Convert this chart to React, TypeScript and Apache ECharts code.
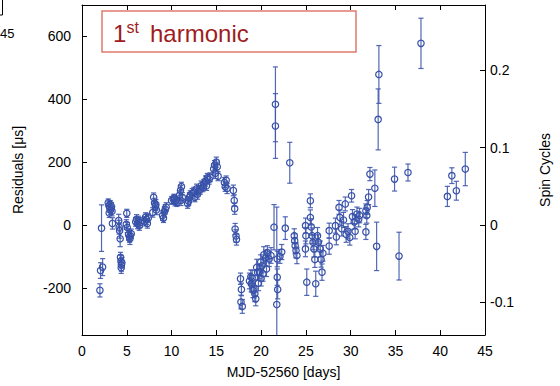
import React, { useEffect, useRef } from "react";
import * as echarts from "echarts";

// MJD-52560 [days]
const days = [
  2.0, 2.07, 2.3, 2.18, 2.93, 3.0, 3.1, 3.15, 3.2, 3.3,
  3.35, 3.04, 3.4, 4.1, 4.15, 4.2, 4.26, 4.3, 4.35, 4.4,
  4.38, 4.45, 5.0, 4.95, 5.05, 5.2, 5.3, 5.35, 5.4, 5.5,
  6.0, 6.1, 6.2, 6.3, 6.4, 6.5, 7.0, 7.1, 7.2, 7.3,
  7.4, 7.9, 8.0, 8.1, 8.2, 8.25, 8.3, 9.0, 9.1, 9.2,
  9.3, 9.4, 10.0, 10.2, 10.4, 10.5, 10.6, 10.3, 10.9, 11.0,
  11.1, 11.2, 11.05, 11.8, 11.9, 12.0, 12.1, 12.3, 12.5, 12.6,
  12.8, 12.9, 13.0, 13.2, 13.3, 13.5, 13.6, 13.8, 13.9, 14.0,
  14.2, 14.3, 14.7, 14.8, 14.9, 15.0, 15.1, 15.2, 15.9, 16.0,
  16.1, 16.2, 16.9, 17.0, 17.05, 17.1, 17.2, 17.25, 17.7, 17.8,
  17.75, 17.9, 18.7, 18.85, 18.9, 19.0, 19.2, 19.3, 19.1, 19.4,
  19.5, 19.6, 19.7, 19.8, 19.96, 20.0, 20.1, 20.3, 20.5, 20.2,
  20.7, 20.9, 21.1, 20.6, 21.44, 21.6, 21.6, 21.8, 21.8, 21.85,
  21.75, 22.1, 22.3, 22.7, 23.2, 23.7, 23.8, 23.9, 24.0, 23.75,
  24.96, 25.0, 24.95, 25.1, 25.5, 25.5, 25.6, 25.7, 25.8, 25.9,
  26.0, 26.1, 26.3, 26.4, 26.6, 26.7, 26.8, 26.9, 27.6, 27.6,
  28.3, 28.4, 28.7, 28.8, 29.0, 29.2, 29.4, 29.5, 29.7, 29.9,
  30.1, 30.2, 30.4, 30.5, 30.7, 30.9, 31.0, 31.7, 31.8, 31.85,
  32.0, 32.15, 31.7, 32.7, 32.9, 33.07, 33.15, 34.9, 35.4, 36.4,
  37.85, 40.8, 41.3, 41.8, 42.8,
];

// Residuals [µs]
const residuals = [
  -208, -145, -134, -10, 71, 62, 55, 66, 48, 58,
  44, 38, 5, 14, -7, -18, -44, -103, -115, -127,
  -136, -120, 37, 2, -8, -30, -38, -44, -34, -28,
  10, 18, 4, 14, -2, 8, 12, 25, 18, 5,
  22, 40, 88, 70, 60, 65, 48, 30, 22, 42,
  50, 57, 78, 82, 75, 80, 72, 86, 95, 110,
  122, 88, 78, 68, 76, 88, 95, 100, 105, 88,
  115, 98, 108, 112, 125, 120, 130, 140, 125, 150,
  145, 152, 178, 190, 165, 200, 185, 155, 135, 122,
  142, 116, 110, 78, 52, -13, -35, -46, -171, -205,
  -245, -259, -178, -165, -187, -168, -203, -219, -208, -235,
  -135, -150, -185, -149, -118, -170, -130, -95, -105, -155,
  -88, -108, -97, -140, -7, 384, 315, -108, -166, -205,
  -253, -100, -86, -10, 198, -34, -66, -81, -97, -50,
  -2, -34, -76, -182, 77, 24, -6, -34, -55, -76,
  -110, -187, -34, -55, -76, -110, -150, -90, -18, -67,
  -2, -38, 56, 24, -12, 16, 67, -30, -20, -40,
  93, 27, 10, -20, 35, 18, 30, 45, 30, 56,
  89, 162, -22, 117, -68, 336, 479, 146, -99, 167,
  578, 91, 157, 109, 178,
];

// Error bar half-lengths [µs]
const errors = [
  21, 25, 27, 74, 12, 14, 15, 12, 14, 13,
  15, 14, 18, 20, 22, 24, 25, 16, 18, 20,
  18, 17, 13, 15, 16, 18, 17, 18, 16, 15,
  14, 15, 16, 14, 15, 16, 15, 14, 16, 15,
  14, 15, 14, 15, 14, 16, 15, 15, 14, 16,
  15, 14, 12, 13, 14, 12, 13, 12, 14, 15,
  14, 15, 16, 15, 14, 15, 14, 16, 15, 14,
  15, 16, 15, 14, 15, 14, 15, 16, 15, 14,
  15, 14, 16, 15, 17, 16, 15, 14, 16, 15,
  14, 16, 17, 18, 18, 18, 20, 18, 18, 20,
  22, 22, 25, 22, 26, 24, 28, 25, 23, 22,
  26, 25, 24, 22, 23, 24, 22, 26, 25, 24,
  22, 24, 25, 24, 72, 119, 103, 25, 26, 30,
  310, 22, 24, 36, 65, 22, 25, 24, 26, 22,
  24, 26, 25, 42, 22, 24, 26, 25, 24, 26,
  25, 40, 26, 24, 25, 24, 26, 25, 24, 26,
  24, 25, 22, 24, 23, 24, 22, 25, 24, 24,
  20, 22, 23, 24, 22, 24, 23, 22, 24, 22,
  24, 21, 24, 58, 77, 97, 92, 38, 76, 27,
  80, 32, 25, 30, 53,
];

const xTicks = [0, 5, 10, 15, 20, 25, 30, 35, 40, 45];
const yTicks = [-200, 0, 200, 400, 600];
const spinTicks = [-0.1, 0, 0.1, 0.2];
const spinPeriodUs = 2465; // µs per spin cycle
const yMin = -350;
const yMax = 700;

const FONT = "'Liberation Sans', Arial, Helvetica, sans-serif";
const BLUE = "#3650a8";
const BAR = "#3f58ad";

export default function App() {
  const ref = useRef<HTMLDivElement>(null);

  useEffect(() => {
    if (!ref.current) return;
    const chart = echarts.init(ref.current, undefined, { renderer: "svg" });
    const data = days.map((d, i) => [d, residuals[i], errors[i]]);

    const axisCommon = {
      axisLine: { show: true, onZero: false, lineStyle: { color: "#000", width: 1 } },
      axisTick: { show: true, inside: true, length: 5, lineStyle: { color: "#000", width: 1 } },
      splitLine: { show: false },
      axisLabel: { color: "#000", fontSize: 14, fontFamily: FONT },
      nameTextStyle: { color: "#000", fontSize: 14, fontFamily: FONT },
    };

    chart.setOption({
      animation: false,
      grid: { left: 82, right: 73, top: 5, bottom: 51, containLabel: false },
      xAxis: [
        {
          ...axisCommon,
          type: "value",
          position: "bottom",
          min: 0,
          max: 45,
          interval: 5,
          name: "MJD-52560 [days]",
          nameLocation: "middle",
          nameGap: 30,
          axisLabel: { ...axisCommon.axisLabel, margin: 9, customValues: xTicks },
          axisTick: { ...axisCommon.axisTick, customValues: xTicks },
        },
        {
          ...axisCommon,
          type: "value",
          position: "top",
          min: 0,
          max: 45,
          interval: 5,
          axisLabel: { show: false },
          axisTick: { ...axisCommon.axisTick, customValues: xTicks },
        },
      ],
      yAxis: [
        {
          ...axisCommon,
          type: "value",
          position: "left",
          min: yMin,
          max: yMax,
          name: "Residuals [μs]",
          nameLocation: "middle",
          nameRotate: 90,
          nameGap: 57,
          axisLabel: { ...axisCommon.axisLabel, margin: 11, customValues: yTicks },
          axisTick: { ...axisCommon.axisTick, customValues: yTicks },
        },
        {
          ...axisCommon,
          type: "value",
          position: "right",
          min: yMin / spinPeriodUs,
          max: yMax / spinPeriodUs,
          name: "Spin Cycles",
          nameLocation: "middle",
          nameRotate: 90,
          nameGap: 53,
          axisLabel: {
            ...axisCommon.axisLabel,
            margin: 5,
            customValues: spinTicks,
            formatter: (v: number) => String(Math.round(v * 10) / 10),
          },
          axisTick: { ...axisCommon.axisTick, customValues: spinTicks },
        },
      ],
      series: [
        {
          type: "custom",
          xAxisIndex: 0,
          yAxisIndex: 0,
          clip: true,
          encode: { x: 0, y: 1 },
          data,
          renderItem: (params: any, api: any) => {
            const x = api.value(0);
            const y = api.value(1);
            const e = api.value(2);
            const c = api.coord([x, y]);
            const t = api.coord([x, y + e]);
            const b = api.coord([x, y - e]);
            const barStyle = { stroke: BAR, lineWidth: 1.2, opacity: 0.9 };
            const cw = 2.6;
            return {
              type: "group",
              children: [
                { type: "line", shape: { x1: c[0], y1: t[1], x2: c[0], y2: b[1] }, style: barStyle },
                { type: "line", shape: { x1: c[0] - cw, y1: t[1], x2: c[0] + cw, y2: t[1] }, style: barStyle },
                { type: "line", shape: { x1: c[0] - cw, y1: b[1], x2: c[0] + cw, y2: b[1] }, style: barStyle },
                {
                  type: "circle",
                  shape: { cx: c[0], cy: c[1], r: 3.2 },
                  style: { fill: "none", stroke: BLUE, lineWidth: 1.2 },
                },
              ],
            };
          },
        },
      ],
      graphic: [
        {
          type: "polyline",
          shape: { points: [[-2, 15], [2.5, 15], [2.5, -2]] },
          style: { stroke: "#000", lineWidth: 1, fill: "none" },
        },
        {
          type: "text",
          x: 0,
          y: 33,
          style: { text: "45", fontSize: 13, fontFamily: FONT, fill: "#000", verticalAlign: "middle" },
        },
        {
          type: "rect",
          shape: { x: 102, y: 11, width: 254, height: 41 },
          style: { fill: "#fff", stroke: "#e07a6c", lineWidth: 1.5 },
          z: 10,
        },
        {
          type: "text",
          x: 113,
          y: 33.3,
          z: 11,
          style: { text: "1", fontSize: 24, fontFamily: FONT, fill: "#9e1c22", verticalAlign: "middle" },
        },
        {
          type: "text",
          x: 126.5,
          y: 27.8,
          z: 11,
          style: { text: "st", fontSize: 16, fontFamily: FONT, fill: "#9e1c22", verticalAlign: "middle" },
        },
        {
          type: "text",
          x: 150,
          y: 33.3,
          z: 11,
          style: { text: "harmonic", fontSize: 24, fontFamily: FONT, fill: "#9e1c22", verticalAlign: "middle" },
        },
      ],
    });

    return () => chart.dispose();
  }, []);

  return (
    <div
      ref={ref}
      style={{ position: "absolute", left: 0, top: 0, width: 560, height: 386, background: "#fff" }}
    />
  );
}
